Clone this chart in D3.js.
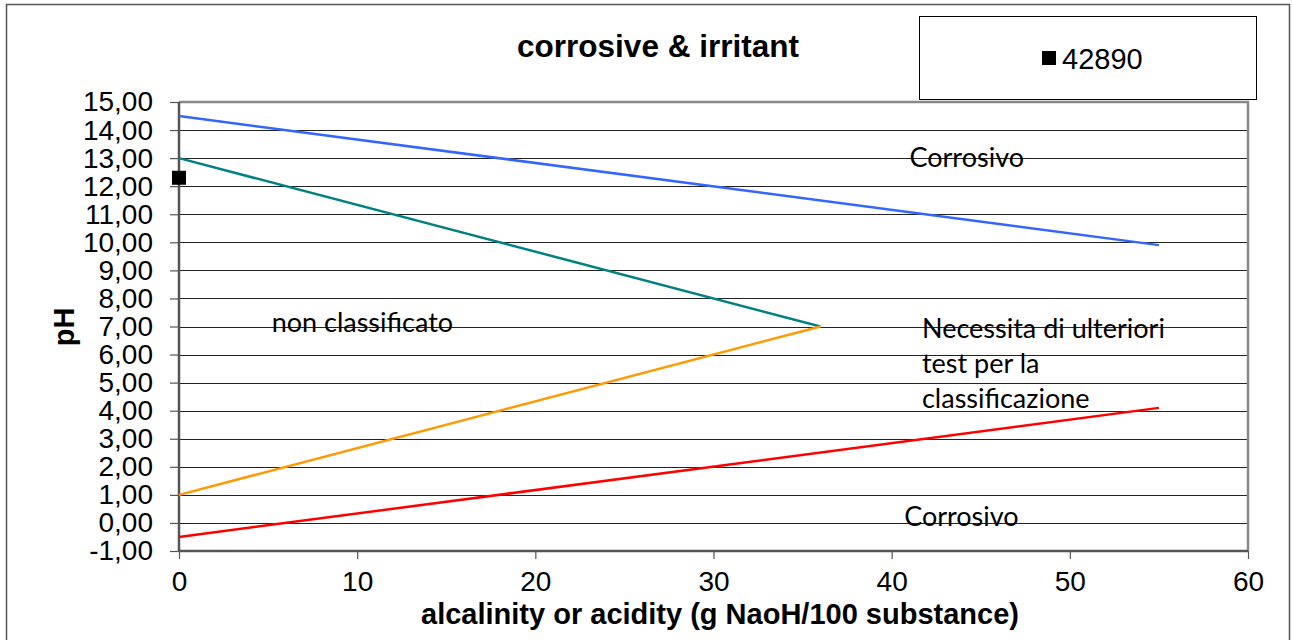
<!doctype html>
<html>
<head>
<meta charset="utf-8">
<script src="https://cdn.jsdelivr.net/npm/d3@7"></script>
<style>
  body { margin: 0; background: #fff; }
  svg { display: block; }
  .tick text { font-family: "Liberation Sans", Arial, sans-serif; }
</style>
</head>
<body>
<svg width="1292" height="640"></svg>
<script>
// boundary lines (x = g NaOH/100 g, y = pH)
var lineNames = ["blue", "teal", "orange", "red"];
var lineColors = ["#3366ff", "#008080", "#ff9900", "#ff0000"];
var lineX = [[0, 55], [0, 36], [0, 36], [0, 55]];
var lineY = [[14.5, 9.9], [13, 7], [1, 7], [-0.5, 4.1]];

// measured sample
var sampleName = "42890";
var sampleX = [0];
var sampleY = [12.3];

var xTicks = [0, 10, 20, 30, 40, 50, 60];
var yTicks = [-1, 0, 1, 2, 3, 4, 5, 6, 7, 8, 9, 10, 11, 12, 13, 14, 15];

// zone captions, anchored in data units
var zoneText = [["Corrosivo"], ["non classificato"],
                ["Necessita di ulteriori", "test per la", "classificazione"], ["Corrosivo"]];
var zoneX = [41.0, 5.2, 41.7, 40.7];
var zoneY = [12.7, 6.8, 6.6, -0.1];

var svg = d3.select("svg");
var pLeft = 179, pTop = 102, pRight = 1248, pBottom = 551;

var x = d3.scaleLinear().domain([0, 60]).range([pLeft, pRight]);
var y = d3.scaleLinear().domain([-1, 15]).range([pBottom, pTop]);

// outer frame
svg.append("rect").attr("x", 6.5).attr("y", 4.5).attr("width", 1283).attr("height", 640)
   .style("fill", "none").style("stroke", "#555").style("stroke-width", 1.5);

// grid
svg.append("g").selectAll("line").data(yTicks.filter(d => d < 15)).enter().append("line")
   .attr("x1", pLeft).attr("x2", pRight)
   .attr("y1", d => Math.round(y(d)) + 0.5).attr("y2", d => Math.round(y(d)) + 0.5)
   .style("stroke", "#222").style("stroke-width", 1);

// plot frame (top & right gray)
svg.append("path")
   .attr("d", `M${pLeft},${pTop}H${pRight}V${pBottom}`)
   .style("fill", "none").style("stroke", "#888").style("stroke-width", 2.5);

var fmt = d => d3.format(".2f")(d).replace(".", ",").replace("\u2212", "-");

var yAxis = svg.append("g").attr("transform", `translate(${pLeft},0)`)
   .call(d3.axisLeft(y).tickValues(yTicks).tickFormat(fmt).tickSize(9).tickPadding(17));
var xAxis = svg.append("g").attr("transform", `translate(0,${pBottom})`)
   .call(d3.axisBottom(x).tickValues(xTicks).tickFormat(d3.format("d")).tickSize(8).tickPadding(12));

[yAxis, xAxis].forEach(function(a) {
  a.select(".domain").style("stroke", "#555").style("stroke-width", 2.5);
  a.selectAll(".tick line").style("stroke", "#555").style("stroke-width", 1.2);
  a.selectAll(".tick text").style("fill", "#000").style("font-size", "28px");
});
yAxis.select(".domain").attr("d", `M0,${pTop}V${pBottom}`);
xAxis.select(".domain").attr("d", `M${pLeft},0H${pRight}`);

// boundary lines
svg.append("g").selectAll("line").data(lineNames).enter().append("line")
   .attr("x1", (d, i) => x(lineX[i][0])).attr("y1", (d, i) => y(lineY[i][0]))
   .attr("x2", (d, i) => x(lineX[i][1])).attr("y2", (d, i) => y(lineY[i][1]))
   .style("stroke", (d, i) => lineColors[i]).style("stroke-width", 2.5);

// sample point
svg.append("g").selectAll("rect").data(sampleX).enter().append("rect")
   .attr("x", (d, i) => x(d) - 7).attr("y", (d, i) => y(sampleY[i]) - 7)
   .attr("width", 14).attr("height", 14).style("fill", "#000");

// zone captions
zoneText.forEach(function(lines, i) {
  var t = svg.append("text").attr("x", x(zoneX[i])).attr("y", y(zoneY[i]))
     .style("font-family", "Lato, 'Open Sans', sans-serif").style("font-size", "27px")
     .style("fill", "#000");
  lines.forEach(function(s, j) {
    t.append("tspan").attr("x", x(zoneX[i])).attr("dy", j == 0 ? 0 : 35).text(s);
  });
});

// title
svg.append("text").attr("x", 658).attr("y", 57).attr("text-anchor", "middle")
   .style("font-family", "'Liberation Sans', Arial, sans-serif").style("font-weight", "bold")
   .style("font-size", "31.5px").text("corrosive & irritant");

// axis titles
svg.append("text").attr("x", 720).attr("y", 624).attr("text-anchor", "middle")
   .style("font-family", "'Liberation Sans', Arial, sans-serif").style("font-weight", "bold")
   .style("font-size", "29px").text("alcalinity or acidity (g NaoH/100 substance)");
svg.append("text").attr("transform", "translate(74,327) rotate(-90)").attr("text-anchor", "middle")
   .style("font-family", "'Liberation Sans', Arial, sans-serif").style("font-weight", "bold")
   .style("font-size", "29px").text("pH");

// legend
var lg = svg.append("g");
lg.append("rect").attr("x", 919.5).attr("y", 16.5).attr("width", 337).attr("height", 83)
  .style("fill", "#fff").style("stroke", "#000").style("stroke-width", 1);
lg.append("rect").attr("x", 1042).attr("y", 51).attr("width", 14).attr("height", 14).style("fill", "#000");
lg.append("text").attr("x", 1062).attr("y", 69)
  .style("font-family", "'Liberation Sans', Arial, sans-serif").style("font-size", "29px")
  .text(sampleName);
</script>
</body>
</html>
